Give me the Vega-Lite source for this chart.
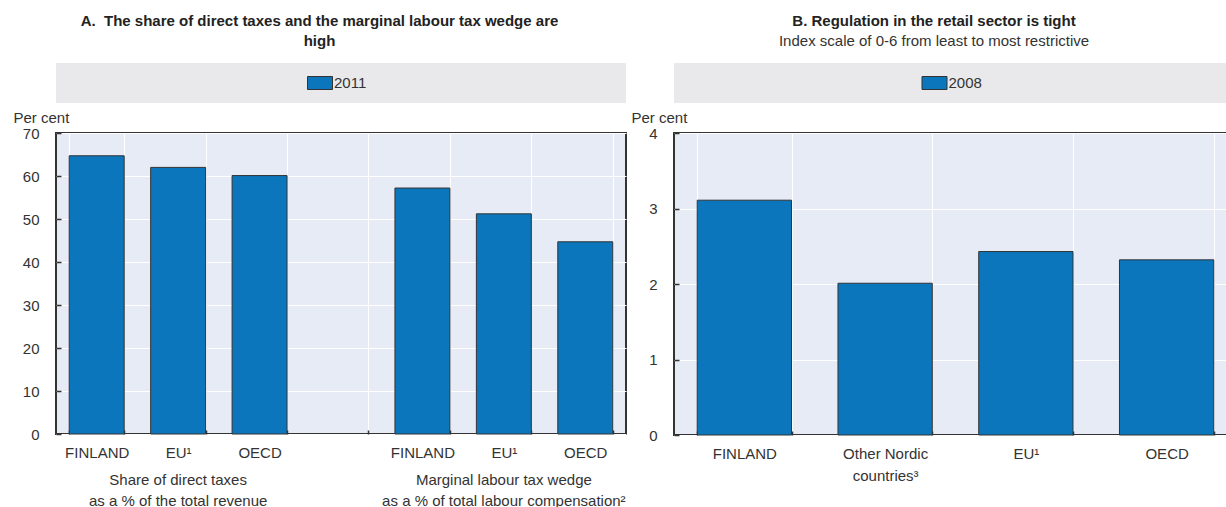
{
  "$schema": "https://vega.github.io/schema/vega-lite/v6.json",
  "background": "white",
  "padding": {"left": 12, "top": 14, "right": 0, "bottom": 0},
  "config": {
    "font": "Liberation Sans, Arial, sans-serif",
    "view": {"fill": "#e7ebf5", "stroke": "#333333", "strokeWidth": 2},
    "axis": {
      "labelFont": "Liberation Sans, Arial, sans-serif",
      "labelFontSize": 15,
      "labelColor": "#333333",
      "titleFont": "Liberation Sans, Arial, sans-serif",
      "titleFontSize": 15,
      "titleFontWeight": "normal",
      "titleColor": "#333333",
      "domain": false,
      "grid": true,
      "gridColor": "#ffffff",
      "gridWidth": 1,
      "tickColor": "#333333",
      "tickWidth": 1.5
    },
    "axisX": {"tickSize": -4, "labelPadding": 15, "labelAngle": 0, "tickBand": "extent", "labelLineHeight": 22},
    "axisY": {"tickSize": -5, "labelPadding": 22, "titleAngle": 0, "titleAlign": "left", "titleBaseline": "alphabetic", "titleX": -43, "titleY": -11},
    "title": {
      "font": "Liberation Sans, Arial, sans-serif",
      "fontSize": 15,
      "fontWeight": "bold",
      "color": "#222222",
      "anchor": "middle",
      "offset": 14,
      "lineHeight": 20,
      "subtitleFont": "Liberation Sans, Arial, sans-serif",
      "subtitleFontSize": 15,
      "subtitleColor": "#333333",
      "subtitlePadding": 5
    }
  },
  "spacing": 3,
  "hconcat": [
    {
      "title": {"text": ["A.\u00a0 The share of direct taxes and the marginal labour tax wedge are", "high"]},
      "spacing": 30,
      "bounds": "flush",
      "vconcat": [
        {
          "width": 570,
          "height": 40,
          "view": {"fill": "#e9e9eb", "stroke": null},
          "data": {"values": [{"year": "2011"}]},
          "layer": [
            {
              "mark": {"type": "point", "shape": "M-1,-0.52L1,-0.52L1,0.52L-1,0.52Z", "size": 625, "filled": true, "fill": "#0b76bc", "stroke": "#333333", "strokeWidth": 1, "opacity": 1, "xOffset": -21},
              "encoding": {"x": {"field": "year", "type": "nominal", "axis": null}}
            },
            {
              "mark": {"type": "text", "align": "left", "baseline": "middle", "dx": -7, "fontSize": 15, "color": "#333333"},
              "encoding": {"x": {"field": "year", "type": "nominal", "axis": null}, "text": {"field": "year"}}
            }
          ]
        },
        {
          "width": 570,
          "height": 301,
          "layer": [
            {
              "data": {"values": [
                {"cat": "FINLAND", "value": 64.7},
                {"cat": "EU¹", "value": 62.0},
                {"cat": "OECD", "value": 60.1},
                {"cat": "FINLAND ", "value": 57.2},
                {"cat": "EU¹ ", "value": 51.2},
                {"cat": "OECD ", "value": 44.7}
              ]},
              "mark": {"type": "bar", "fill": "#0b76bc", "stroke": "#333333", "strokeWidth": 1},
              "encoding": {
                "x": {"field": "cat", "type": "nominal", "sort": null,
                  "scale": {"domain": ["FINLAND", "EU¹", "OECD", " ", "FINLAND ", "EU¹ ", "OECD "], "paddingInner": 0.325, "paddingOuter": 0.1625},
                  "axis": {"title": null, "labelExpr": "trim(datum.label)"}},
                "y": {"field": "value", "type": "quantitative",
                  "scale": {"domain": [0, 70], "nice": false},
                  "axis": {"title": "Per cent", "values": [0, 10, 20, 30, 40, 50, 60, 70]}}
              }
            },
            {
              "data": {"values": [
                {"cat": "EU¹", "label": "Share of direct taxes|as a % of the total revenue"},
                {"cat": "EU¹ ", "label": "Marginal labour tax wedge|as a % of total labour compensation²"}
              ]},
              "mark": {"type": "text", "baseline": "top", "dy": 39, "lineBreak": "|", "lineHeight": 21, "fontSize": 15, "color": "#333333"},
              "encoding": {
                "x": {"field": "cat", "type": "nominal", "sort": null,
                  "scale": {"domain": ["FINLAND", "EU¹", "OECD", " ", "FINLAND ", "EU¹ ", "OECD "]}},
                "y": {"datum": 0},
                "text": {"field": "label"}
              }
            }
          ]
        }
      ]
    },
    {
      "title": {"text": "B. Regulation in the retail sector is tight", "subtitle": "Index scale of 0-6 from least to most restrictive"},
      "spacing": 30,
      "bounds": "flush",
      "vconcat": [
        {
          "width": 563,
          "height": 40,
          "view": {"fill": "#e9e9eb", "stroke": null},
          "data": {"values": [{"year": "2008"}]},
          "layer": [
            {
              "mark": {"type": "point", "shape": "M-1,-0.52L1,-0.52L1,0.52L-1,0.52Z", "size": 625, "filled": true, "fill": "#0b76bc", "stroke": "#333333", "strokeWidth": 1, "opacity": 1, "xOffset": -21},
              "encoding": {"x": {"field": "year", "type": "nominal", "axis": null}}
            },
            {
              "mark": {"type": "text", "align": "left", "baseline": "middle", "dx": -7, "fontSize": 15, "color": "#333333"},
              "encoding": {"x": {"field": "year", "type": "nominal", "axis": null}, "text": {"field": "year"}}
            }
          ]
        },
        {
          "width": 563,
          "height": 302,
          "data": {"values": [
            {"cat": "FINLAND", "value": 3.11},
            {"cat": "Other Nordic|countries³", "value": 2.01},
            {"cat": "EU¹", "value": 2.43},
            {"cat": "OECD", "value": 2.32}
          ]},
          "mark": {"type": "bar", "fill": "#0b76bc", "stroke": "#333333", "strokeWidth": 1},
          "encoding": {
            "x": {"field": "cat", "type": "nominal", "sort": null,
              "scale": {"domain": ["FINLAND", "Other Nordic|countries³", "EU¹", "OECD"], "paddingInner": 0.33, "paddingOuter": 0.165},
              "axis": {"title": null, "labelExpr": "split(datum.label, '|')"}},
            "y": {"field": "value", "type": "quantitative",
              "scale": {"domain": [0, 4], "nice": false},
              "axis": {"title": "Per cent", "values": [0, 1, 2, 3, 4]}}
          }
        }
      ]
    }
  ]
}
